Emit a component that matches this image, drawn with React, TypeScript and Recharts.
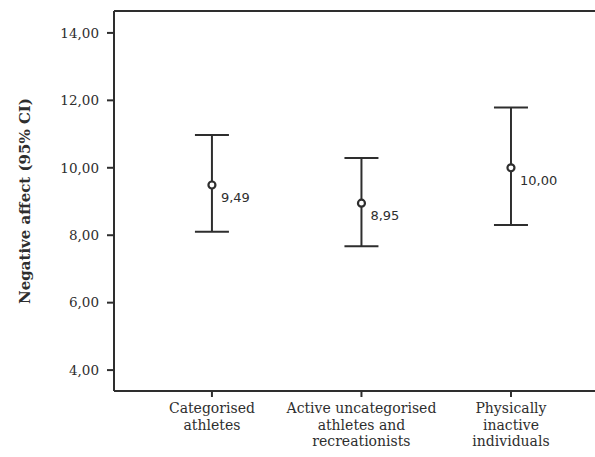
import React from 'react';
import { ComposedChart, Scatter, XAxis, YAxis, ErrorBar, ReferenceLine } from 'recharts';

const groups = ['Categorised|athletes', 'Active uncategorised|athletes and|recreationists', 'Physically|inactive|individuals'];
const positions = [1, 2, 3];
const means = [9.49, 8.95, 10.0];
const lowerCI = [8.1, 7.67, 8.3];
const upperCI = [10.97, 10.29, 11.79];
const yTicks = [4, 6, 8, 10, 12, 14];

const ink = '#2e2e2e';
const serif = '"DejaVu Serif", serif';
const yMin = 3.38;
const yMax = 14.65;

const fmt = (v: number) => v.toFixed(2).replace('.', ',');

const data = means.map((m, i) => ({
  x: positions[i],
  mean: m,
  ci: [m - lowerCI[i], upperCI[i] - m],
}));

const Point = (props: any) => {
  const { cx, cy, payload } = props;
  return (
    <g>
      <circle cx={cx} cy={cy} r={3.5} fill="#fff" stroke={ink} strokeWidth={2.2} />
      <text x={cx + 9} y={cy + 17} fontSize={13} fontFamily='"DejaVu Sans", sans-serif' fill={ink}>
        {fmt(payload.mean)}
      </text>
    </g>
  );
};

const GroupTick = (props: any) => {
  const { x, y, payload } = props;
  const idx = positions.indexOf(payload.value);
  const lines = idx >= 0 ? groups[idx].split('|') : [];
  return (
    <text x={x} y={y + 16} textAnchor="middle" fontSize={14} fontFamily={serif} fill={ink}>
      {lines.map((l, i) => (
        <tspan key={i} x={x} dy={i === 0 ? 0 : 16.5}>{l}</tspan>
      ))}
    </text>
  );
};

const YTitle = () => (
  <text x={25} y={201} transform="rotate(-90 25 201)" textAnchor="middle" dominantBaseline="central"
    style={{ fontSize: 15, fontWeight: 'bold', fontFamily: serif }} fill={ink}>
    Negative affect (95% CI)
  </text>
);

export default function App() {
  return (
    <div style={{ position: 'absolute', left: 0, top: 0, background: '#fff' }}>
      <ComposedChart width={595} height={457} data={data} margin={{ top: 11, right: 0, bottom: 0, left: 0 }}>
        <XAxis type="number" dataKey="x" domain={[0.345, 3.562]} ticks={positions} allowDataOverflow
          height={66} tickSize={6} tickMargin={0} tick={<GroupTick />}
          axisLine={{ stroke: ink, strokeWidth: 2 }} tickLine={{ stroke: ink, strokeWidth: 2 }} />
        <YAxis type="number" domain={[yMin, yMax]} ticks={yTicks} allowDataOverflow width={114}
          tickSize={7} tickMargin={8} tickFormatter={fmt}
          tick={{ fontSize: 13.5, fontFamily: serif, fill: ink }}
          axisLine={{ stroke: ink, strokeWidth: 2 }} tickLine={{ stroke: ink, strokeWidth: 2 }}
          label={<YTitle />} />
        <ReferenceLine y={yMax} stroke={ink} strokeWidth={2} />
        <Scatter dataKey="mean" fill={ink} shape={<Point />} isAnimationActive={false}>
          <ErrorBar dataKey="ci" direction="y" width={17} stroke={ink} strokeWidth={2} isAnimationActive={false} />
        </Scatter>
      </ComposedChart>
    </div>
  );
}
